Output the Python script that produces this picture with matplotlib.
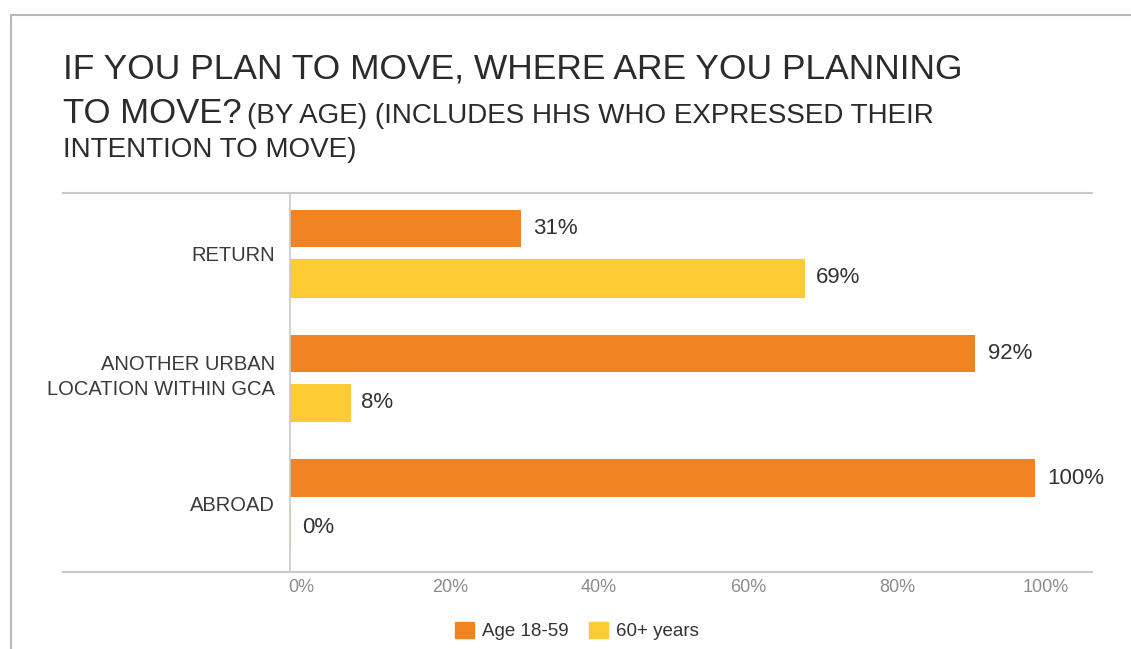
import matplotlib.pyplot as plt
from matplotlib.lines import Line2D
from matplotlib.patches import Patch
from matplotlib.transforms import ScaledTranslation

plt.rcParams['font.family'] = ['Liberation Sans', 'DejaVu Sans']

categories = ["RETURN", "ANOTHER URBAN\nLOCATION WITHIN GCA", "ABROAD"]
age_18_59 = [31, 92, 100]
age_60_plus = [69, 8, 0]
series_names = ["Age 18-59", "60+ years"]
x_ticks = [0, 20, 40, 60, 80, 100]

orange = "#F28322"
yellow = "#FDCB33"
grey_line = "#c9c9c9"
text_dark = "#2b2b2b"

W, H = 1131, 649
fig = plt.figure(figsize=(W / 100, H / 100), dpi=100)

# frame lines (top and left only)
fig.add_artist(Line2D([10.5 / W, 10.5 / W], [0, 1 - 15 / H], color="#b8b8b8", lw=1.5,
                      solid_capstyle="butt"))
fig.add_artist(Line2D([10 / W, 1], [1 - 15 / H, 1 - 15 / H], color="#b8b8b8", lw=1.5,
                      solid_capstyle="butt"))

# title
fig.text(63 / W, 1 - 78.5 / H, "IF YOU PLAN TO MOVE, WHERE ARE YOU PLANNING",
         fontsize=25.5, color=text_dark, va="baseline")
t2 = fig.text(63 / W, 1 - 123 / H, "TO MOVE?", fontsize=25, color=text_dark, va="baseline")
fig.canvas.draw()
bb = t2.get_window_extent()
fig.text((bb.x1 + 5) / W, 1 - 123 / H, "(BY AGE) (INCLUDES HHS WHO EXPRESSED THEIR",
         fontsize=20, color=text_dark, va="baseline")
fig.text(63 / W, 1 - 157.5 / H, "INTENTION TO MOVE)", fontsize=20, color=text_dark, va="baseline")

# plot area
left, right, top, bottom = 290, 1092, 193, 572
ax = fig.add_axes([left / W, 1 - bottom / H, (right - left) / W, (bottom - top) / H])
px_per_pct = (1035 - 290) / 100
ax.set_xlim(0, (right - left) / px_per_pct)
ax.set_ylim(2 + 69 / 125, -60.5 / 125)

ypos = list(range(len(categories)))
h = 0.3
ax.barh([y - 0.2 for y in ypos], age_18_59, height=h, color=orange, label=series_names[0])
ax.barh([y + 0.196 for y in ypos], age_60_plus, height=h, color=yellow,
        edgecolor=yellow, linewidth=0.8, label=series_names[1])

for y, v in zip(ypos, age_18_59):
    ax.annotate(f"{v}%", (v, y - 0.2), xytext=(9, 0), textcoords="offset points",
                va="center", ha="left", fontsize=16, color="#333333")
for y, v in zip(ypos, age_60_plus):
    ax.annotate(f"{v}%", (v, y + 0.196), xytext=(8.5, 0), textcoords="offset points",
                va="center", ha="left", fontsize=16, color="#333333")

for s in ["top", "right", "bottom"]:
    ax.spines[s].set_visible(False)
ax.spines["left"].set_color(grey_line)
ax.spines["left"].set_linewidth(1.2)

ax.set_yticks(ypos)
ax.set_yticklabels(categories, fontsize=14.5, color="#3a3a3a", linespacing=1.4)
ax.tick_params(axis="y", length=0, pad=11)
# the two-line label sits a little above its group
two_line = ax.get_yticklabels()[1]
two_line.set_transform(two_line.get_transform() + ScaledTranslation(0, 6 / 100, fig.dpi_scale_trans))

ax.set_xticks(x_ticks)
ax.set_xticklabels([f"{t}%" for t in x_ticks], fontsize=13, color="#8c8c8c")
ax.tick_params(axis="x", length=0, pad=5)
for lbl in ax.get_xticklabels():
    lbl.set_transform(lbl.get_transform() + ScaledTranslation(11 / 100, 0, fig.dpi_scale_trans))

# separator lines across the chart
fig.add_artist(Line2D([63 / W, right / W], [1 - top / H] * 2, color=grey_line, lw=1.5))
fig.add_artist(Line2D([63 / W, right / W], [1 - bottom / H] * 2, color=grey_line, lw=1.5))

handles = [Patch(color=orange), Patch(color=yellow)]
fig.legend(handles, series_names, loc="center", bbox_to_anchor=(577 / W, 1 - 631 / H),
           ncol=2, frameon=False, fontsize=13.5, handlelength=1.0, handleheight=1.0,
           handletextpad=0.45, columnspacing=1.1, labelcolor="#333333")

fig.savefig("out.png", dpi=100)
